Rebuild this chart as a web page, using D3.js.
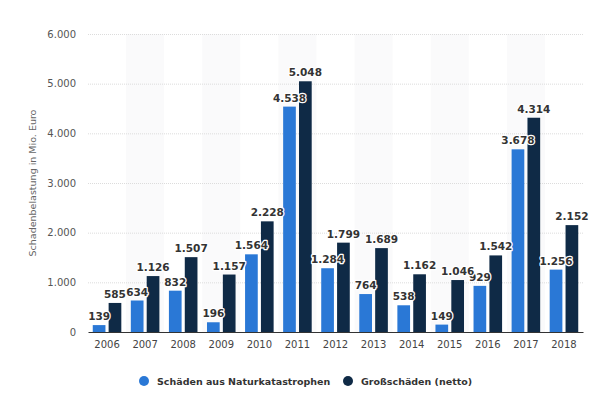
<!DOCTYPE html>
<html><head><meta charset="utf-8">
<script src="https://cdn.jsdelivr.net/npm/d3@7/dist/d3.min.js"></script>
<style>
body{margin:0;background:#fff;}
svg{display:block;}
.lbl{font-family:"DejaVu Sans",sans-serif;font-weight:bold;font-size:10.5px;fill:#333;paint-order:stroke;stroke:#fff;stroke-width:2.5px;stroke-linejoin:round;}
</style>
</head><body>
<script>
const years = ["2006","2007","2008","2009","2010","2011","2012","2013","2014","2015","2016","2017","2018"];
const natur = [139,634,832,196,1564,4538,1284,764,538,149,929,3678,1256];
const gross = [585,1126,1507,1157,2228,5048,1799,1689,1162,1046,1542,4314,2152];
const seriesNames = ["Schäden aus Naturkatastrophen","Großschäden (netto)"];
const colors = ["#2a78d6","#0f2a46"];
const yTicks = [0,1000,2000,3000,4000,5000,6000];

const W=598,H=396;
const m={l:88,r:15,t:34,b:64};
const svg=d3.select("body").append("svg").attr("width",W).attr("height",H);
const x=d3.scaleBand().domain(years).range([m.l,W-m.r]).padding(0);
const y=d3.scaleLinear().domain([0,6000]).range([H-m.b,m.t]);
const fmt=v=>d3.format(",")(v).replace(/,/g,".");

// alternating bands
svg.append("g").selectAll("rect").data(years.filter((d,i)=>i%2===1)).join("rect")
 .attr("x",d=>x(d)).attr("width",x.bandwidth()).attr("y",m.t).attr("height",y(0)-m.t).attr("fill","#fafafb");

// grid
svg.append("g").selectAll("line").data(yTicks.slice(1)).join("line")
 .attr("x1",m.l).attr("x2",W-m.r).attr("y1",d=>y(d)+0.5).attr("y2",d=>y(d)+0.5)
 .attr("stroke","#dcdcdc").attr("stroke-dasharray","1,1");

// y axis
const ya=svg.append("g").attr("transform",`translate(${m.l},0)`).call(d3.axisLeft(y).tickValues(yTicks).tickFormat(fmt).tickSize(0).tickPadding(12));
ya.select(".domain").remove();
ya.selectAll("text").attr("font-family","'DejaVu Sans',sans-serif").attr("font-size","10px").attr("fill","#555");

svg.append("text").attr("transform",`translate(36,${(m.t+y(0))/2}) rotate(-90)`).attr("text-anchor","middle")
 .attr("font-family","'DejaVu Sans',sans-serif").attr("font-size","9.5px").attr("fill","#666").text("Schadenbelastung in Mio. Euro");

// x axis
const xa=svg.append("g").attr("transform",`translate(0,${y(0)})`).call(d3.axisBottom(x).tickSize(0).tickPadding(9));
xa.select(".domain").attr("stroke","#333");
xa.selectAll("text").attr("font-family","'DejaVu Sans',sans-serif").attr("font-size","10px").attr("fill","#444");

const inner=d3.scaleBand().domain([0,1]).range([0,x.bandwidth()]).paddingInner(0.2).paddingOuter(0.3);
const data=[natur,gross];
data.forEach((arr,si)=>{
  svg.append("g").selectAll("rect").data(arr).join("rect")
   .attr("x",(d,i)=>x(years[i])+inner(si)).attr("width",inner.bandwidth())
   .attr("y",d=>y(d)).attr("height",d=>y(0)-y(d)).attr("fill",colors[si]);
});
data.forEach((arr,si)=>{
  svg.append("g").selectAll("text").data(arr).join("text").attr("class","lbl")
   .attr("x",(d,i)=>x(years[i])+inner(si)+inner.bandwidth()/2).attr("y",d=>y(d)-5)
   .attr("text-anchor","middle").text(fmt);
});

// legend
const lg=svg.append("g").attr("transform",`translate(0,381)`);
const lx=[144,348];
seriesNames.forEach((n,i)=>{
  lg.append("circle").attr("cx",lx[i]).attr("cy",0).attr("r",5).attr("fill",colors[i]);
  lg.append("text").attr("x",lx[i]+13).attr("y",3.5).attr("font-family","'DejaVu Sans',sans-serif").attr("font-weight","bold")
   .attr("font-size","9.5px").attr("fill","#333").text(n);
});
</script>
</body></html>
